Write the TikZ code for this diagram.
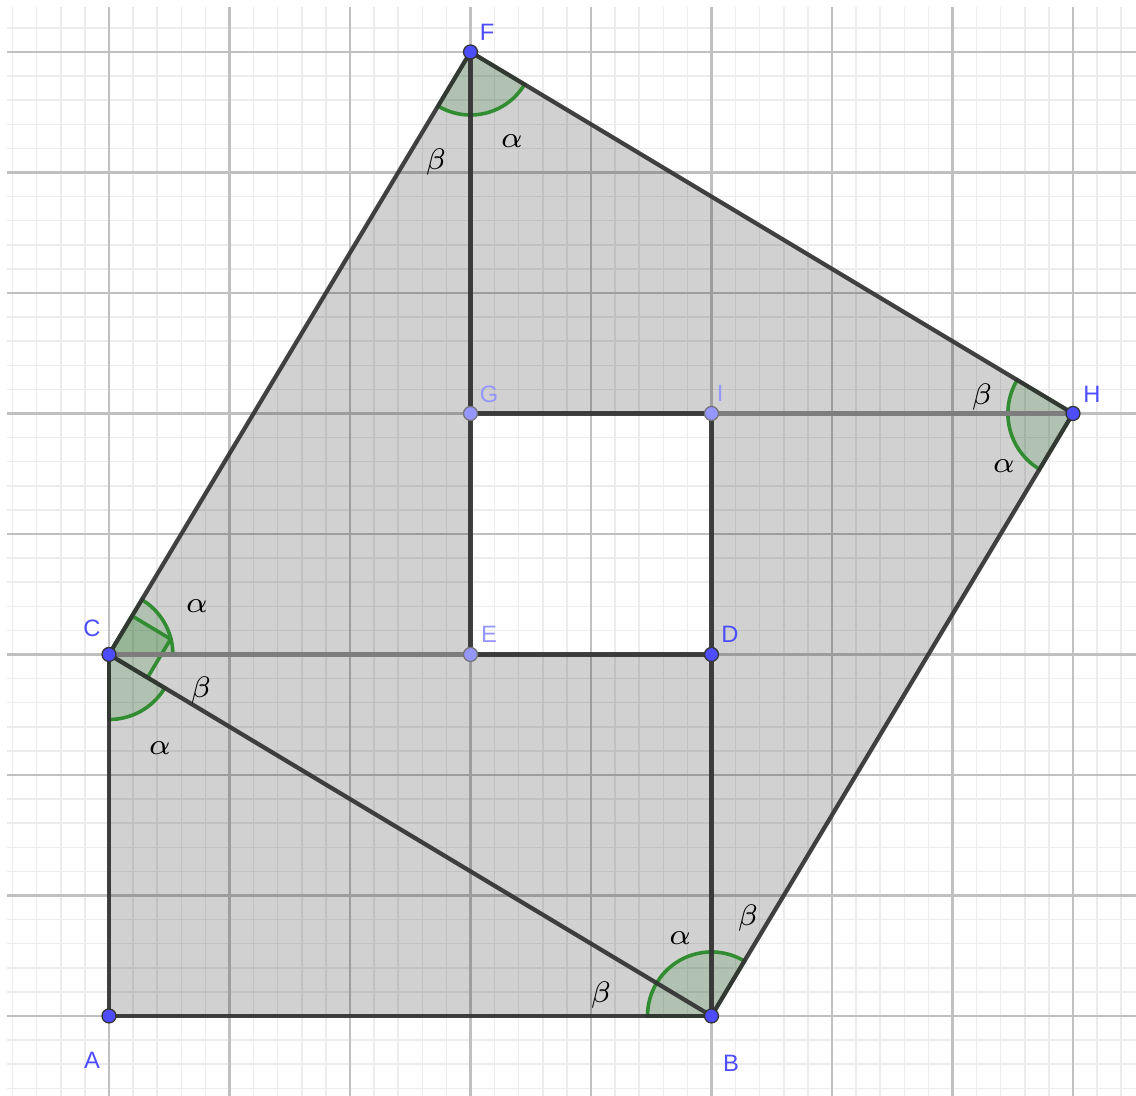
\documentclass[tikz,border=0pt]{standalone}
\usepackage{fontspec}
\setsansfont{Liberation Sans}
\begin{document}
\begin{tikzpicture}[x=1cm,y=1cm,
  gridmin/.style={draw={rgb,255:red,236;green,236;blue,236},line width=0.35pt},
  gridmaj/.style={draw={rgb,255:red,192;green,192;blue,192},line width=0.5pt},
  seg/.style={draw={rgb,255:red,50;green,50;blue,50},line width=1pt,draw opacity=0.92},
  seglight/.style={draw={rgb,255:red,125;green,125;blue,125},line width=1pt},
  anglemark/.style={draw={rgb,255:red,50;green,140;blue,50},line width=0.85pt,fill={rgb,255:red,0;green,110;blue,0},fill opacity=0.15},
  pt/.style={circle,inner sep=0pt,minimum size=3.3pt,fill={rgb,255:red,77;green,77;blue,255},draw=black!80,line width=0.3pt},
  ptlight/.style={circle,inner sep=0pt,minimum size=3.3pt,fill={rgb,255:red,150;green,150;blue,255},draw=black!55,line width=0.3pt},
  lbl/.style={text={rgb,255:red,77;green,77;blue,255},font=\sffamily\fontsize{5.6}{6.5}\selectfont,inner sep=0pt},
  lbllight/.style={text={rgb,255:red,150;green,150;blue,255},font=\sffamily\fontsize{5.6}{6.5}\selectfont,inner sep=0pt},
  greek/.style={font=\fontsize{7.2}{8}\selectfont,inner sep=0pt}]
\useasboundingbox (-0.9046,-0.6639) rectangle (8.523,8.4315);
% grid
\begin{scope}
\clip (-0.846,-0.6639) rectangle (8.523,8.373);
\foreach \k in {-5,...,47} {
  \draw[gridmin] (\k*0.2,-0.7) -- (\k*0.2,8.5);
  \draw[gridmin] (-1,\k*0.2) -- (8.6,\k*0.2);
}
\foreach \k in {-1,...,9} {
  \draw[gridmaj] (\k,-0.7) -- (\k,8.5);
  \draw[gridmaj] (-1,\k) -- (8.6,\k);
}
\end{scope}
% points
\coordinate (A) at (0,0);
\coordinate (B) at (5,0);
\coordinate (C) at (0,3);
\coordinate (D) at (5,3);
\coordinate (E) at (3,3);
\coordinate (G) at (3,5);
\coordinate (I) at (5,5);
\coordinate (H) at (8,5);
\coordinate (F) at (3,8);
% filled region
\fill[black,fill opacity=0.18,even odd rule] (A) -- (B) -- (H) -- (F) -- (C) -- cycle (E) -- (D) -- (I) -- (G) -- cycle;
% angle marks
\draw[anglemark] (F) -- ++(239.036:0.523) arc[start angle=239.036,end angle=329.036,radius=0.523] -- cycle;
\draw[anglemark] (H) -- ++(149.036:0.54) arc[start angle=149.036,end angle=239.036,radius=0.54] -- cycle;
\draw[anglemark] (B) -- ++(59.036:0.531) arc[start angle=59.036,end angle=180,radius=0.531] -- cycle;
\draw[anglemark] (C) -- ++(0:0.53) arc[start angle=0,end angle=59.036,radius=0.53] -- cycle;
\draw[anglemark] (C) -- ++(270:0.54) arc[start angle=270,end angle=329.036,radius=0.54] -- cycle;
\draw[anglemark] (C) -- ++(59.036:0.373) -- ++(-30.964:0.373) -- ++(239.036:0.373) -- cycle;
% segments
\draw[seglight] (C) -- (E);
\draw[seglight] (I) -- (H);
\draw[seg] (A) -- (B);
\draw[seg] (A) -- (C);
\draw[seg] (C) -- (B);
\draw[seg] (B) -- (D);
\draw[seg] (E) -- (D);
\draw[seg] (D) -- (I);
\draw[seg] (G) -- (I);
\draw[seg] (E) -- (G);
\draw[seg] (G) -- (F);
\draw[seg] (C) -- (F);
\draw[seg] (F) -- (H);
\draw[seg] (H) -- (B);
% dots
\node[pt] (pA) at (A) {};
\node[pt] (pB) at (B) {};
\node[pt] (pC) at (C) {};
\node[pt] (pD) at (D) {};
\node[ptlight] (pE) at (E) {};
\node[ptlight] (pG) at (G) {};
\node[ptlight] (pI) at (I) {};
\node[pt] (pH) at (H) {};
\node[pt] (pF) at (F) {};
% point labels
\node[lbl] (lF) at (3.137,8.166) {F};
\node[lbl] (lC) at (-0.141,3.220) {C};
\node[lbl] (lA) at (-0.141,-0.365) {A};
\node[lbl] (lB) at (5.162,-0.390) {B};
\node[lbllight] (lG) at (3.154,5.162) {G};
\node[lbllight] (lI) at (5.071,5.170) {I};
\node[lbl] (lH) at (8.158,5.162) {H};
\node[lbllight] (lE) at (3.154,3.170) {E};
\node[lbl] (lD) at (5.154,3.170) {D};
% angle labels
\node[greek] (gF1) at (2.714,7.087) {$\beta$};
\node[greek] (gF2) at (3.344,7.261) {$\alpha$};
\node[greek] (gC1) at (0.730,3.402) {$\alpha$};
\node[greek] (gC2) at (0.763,2.705) {$\beta$};
\node[greek] (gC3) at (0.423,2.224) {$\alpha$};
\node[greek] (gB1) at (4.739,0.647) {$\alpha$};
\node[greek] (gB2) at (4.083,0.174) {$\beta$};
\node[greek] (gB3) at (5.303,0.813) {$\beta$};
\node[greek] (gH1) at (7.245,5.137) {$\beta$};
\node[greek] (gH2) at (7.427,4.564) {$\alpha$};
\end{tikzpicture}
\end{document}
